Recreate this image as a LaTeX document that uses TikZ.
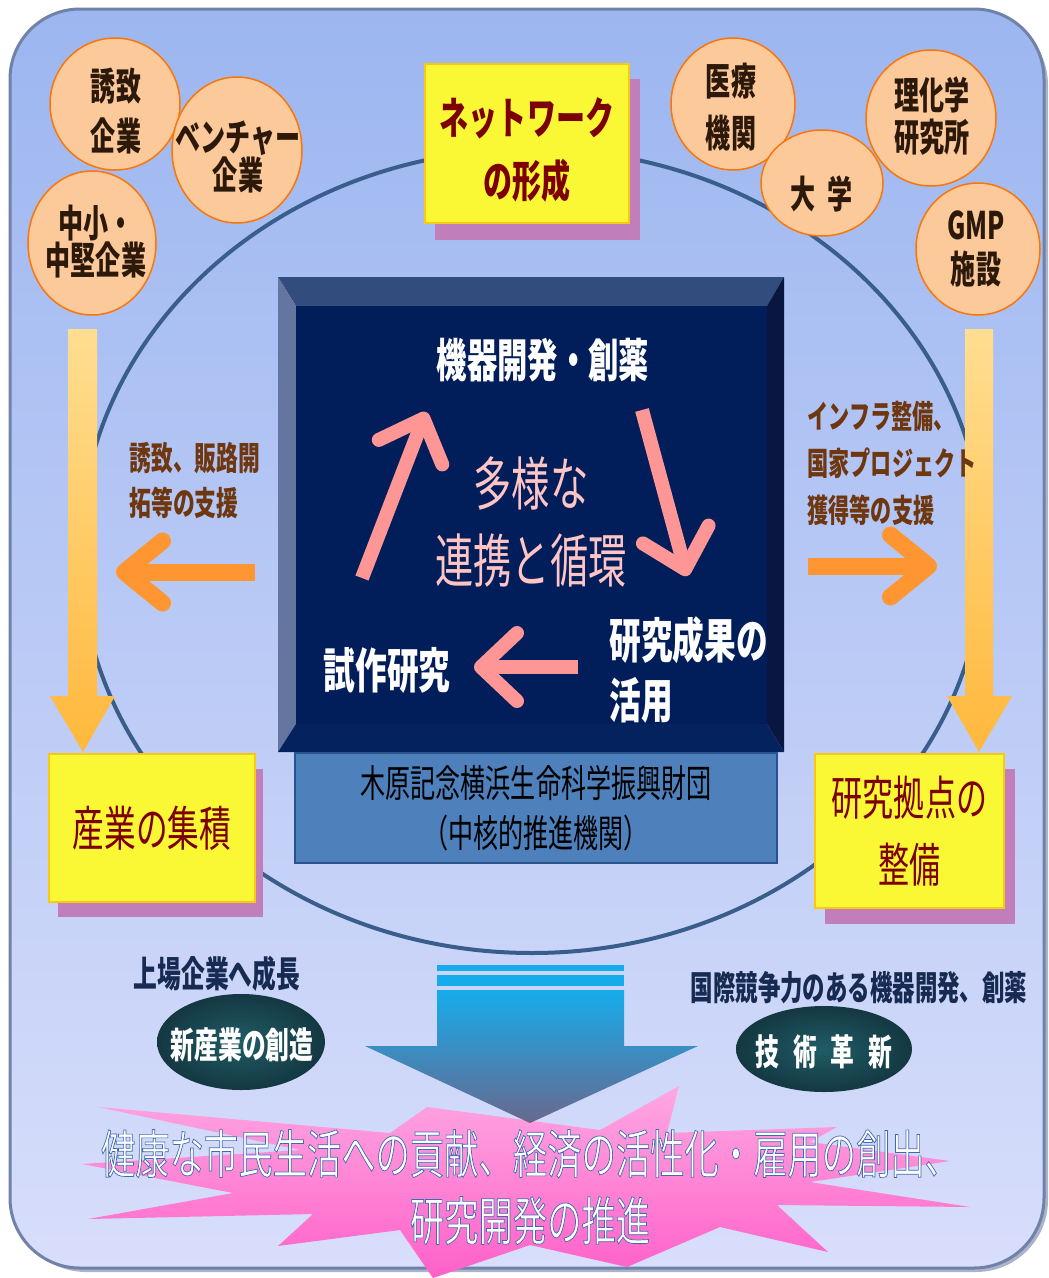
\documentclass[tikz,border=0pt]{standalone}
\usepackage{fontspec}
\usepackage{tikz}
\usetikzlibrary{shapes.geometric,arrows.meta}
\newfontfamily\jp[FakeStretch=0.66]{Noto Sans CJK JP}
\newcommand\fs[2]{\fontsize{#1}{#2}\selectfont}
\newcommand\outlineon{\special{pdf:literal direct 2 Tr 0.7 w 0.25 0.41 0.69 RG}}
\newcommand\outlineoff{\special{pdf:literal direct 0 Tr}}
\definecolor{panel top}{RGB}{156,182,240}
\definecolor{panel bottom}{RGB}{216,222,251}
\definecolor{panel edge}{RGB}{112,130,168}
\definecolor{ring line}{RGB}{58,94,140}
\definecolor{bubble fill}{RGB}{252,201,155}
\definecolor{bubble edge}{RGB}{250,118,10}
\definecolor{bubble text}{RGB}{45,25,10}
\definecolor{note fill}{RGB}{250,247,52}
\definecolor{note edge}{RGB}{250,200,20}
\definecolor{note shadow}{RGB}{192,126,186}
\definecolor{note text}{RGB}{125,0,0}
\definecolor{core fill}{RGB}{1,30,90}
\definecolor{bevel top}{RGB}{50,76,126}
\definecolor{bevel left}{RGB}{100,118,160}
\definecolor{bevel right}{RGB}{8,22,64}
\definecolor{bevel bottom}{RGB}{4,34,94}
\definecolor{cycle pink}{RGB}{255,150,150}
\definecolor{cycle text}{RGB}{255,196,196}
\definecolor{base fill}{RGB}{78,128,188}
\definecolor{base edge}{RGB}{42,82,140}
\definecolor{side orange}{RGB}{255,150,50}
\definecolor{side text}{RGB}{110,55,15}
\definecolor{flow top}{RGB}{255,222,145}
\definecolor{flow bottom}{RGB}{255,184,60}
\definecolor{label navy}{RGB}{22,42,82}
\definecolor{badge in}{RGB}{32,92,102}
\definecolor{badge out}{RGB}{20,56,66}
\definecolor{drop top}{RGB}{22,172,236}
\definecolor{drop mid}{RGB}{74,142,198}
\definecolor{drop bottom}{RGB}{104,104,142}
\definecolor{burst top}{RGB}{255,168,226}
\definecolor{burst bottom}{RGB}{255,96,200}
\tikzset{bubble/.style={ellipse, draw=bubble edge, fill=bubble fill, line width=1.5pt, inner sep=0pt},
    bubbletext/.style={align=center, text=bubble text, font=\jp\bfseries\fs{38}{50}},
    note/.style={rectangle, draw=note edge, fill=note fill, line width=1.2pt, inner sep=0pt, align=center, text=note text},
    cyclearrow/.style={draw=cycle pink, line width=14pt, -{Straight Barb[round, length=36pt, width=68pt]}},
    sidearrow/.style={draw=side orange, line width=17pt, -{Straight Barb[round, length=38pt, width=62pt]}},
    sidetext/.style={align=left, anchor=west, text=side text, font=\jp\bfseries\fs{33}{45}},
    whitetext/.style={text=white, font=\jp\bfseries\fs{46}{60}},
    badge/.style={ellipse, inner sep=0pt, inner color=badge in, outer color=badge out},
    flow/.style={top color=flow top, bottom color=flow bottom},
    slogan/.style={align=center, font=\jp\fs{52}{67}}}

\begin{document}
\begin{tikzpicture}[x=1pt, y=-1pt]
    \useasboundingbox (0,0) rectangle (1049,1278);
    % panel
    \fill[panel edge!60, rounded corners=72pt] (14,13) rectangle (1048,1272);
    \shadedraw[top color=panel top, bottom color=panel bottom, draw=panel edge, line width=3pt, rounded corners=70pt]
        (10,9) rectangle (1044,1268);
    \draw[ring line, line width=4pt] (532,551) ellipse [x radius=452, y radius=402];

    % flows down to the two notes
    \shade[flow] (68,329) -- (97,329) -- (97,696) -- (115,696) -- (83,752) -- (50,696) -- (68,696) -- cycle;
    \shade[flow] (965,329) -- (993,329) -- (993,696) -- (1012,696) -- (979,752) -- (947,696) -- (965,696) -- cycle;

    % partners
    \node[bubble, minimum width=130pt, minimum height=132pt] (yuchi) at (115,104) {};
    \node[bubbletext] (yuchi-t) at (116,111) {誘致\\企業};
    \node[bubble, minimum width=130pt, minimum height=146pt] (venture) at (237,150) {};
    \node[bubbletext, font=\jp\bfseries\fs{38}{38}] (venture-t) at (238,157) {ベンチャー\\企業};
    \node[bubble, minimum width=128pt, minimum height=144pt] (chusho) at (92,243) {};
    \node[bubbletext, font=\jp\bfseries\fs{38}{37}] (chusho-t) at (96,242) {中小・\\中堅企業};
    \node[bubble, minimum width=124pt, minimum height=132pt] (iryo) at (733,104) {};
    \node[bubbletext, font=\jp\bfseries\fs{38}{52}] (iryo-t) at (731,107) {医療\\機関};
    \node[bubble, minimum width=122pt, minimum height=106pt] (daigaku) at (822,183) {};
    \node[bubbletext] (daigaku-t) at (822,194) {大\hspace{12pt}学};
    \node[bubble, minimum width=130pt, minimum height=136pt] (riken) at (931,118) {};
    \node[bubbletext, font=\jp\bfseries\fs{38}{42}] (riken-t) at (932,116) {理化学\\研究所};
    \node[bubble, minimum width=124pt, minimum height=132pt] (gmp) at (978,249) {};
    \node[bubbletext, font=\jp\bfseries\fs{38}{44}] (gmp-t) at (976,249) {GMP\\施設};

    % network
    \fill[note shadow] (435,79) rectangle (640,240);
    \node[note, minimum width=204pt, minimum height=159pt] (net) at (527,143.5) {};
    \node[text=note text, align=center, font=\jp\bfseries\fs{44}{63}] (net-t) at (527,150) {ネットワーク\\の形成};

    % core with bevel
    \coordinate (co-a) at (278,277);
    \coordinate (co-b) at (784,277);
    \coordinate (co-c) at (784,752);
    \coordinate (co-d) at (278,752);
    \coordinate (ci-a) at (296,306);
    \coordinate (ci-b) at (767,306);
    \coordinate (ci-c) at (767,724);
    \coordinate (ci-d) at (296,724);
    \fill[bevel top] (co-a) -- (co-b) -- (ci-b) -- (ci-a) -- cycle;
    \fill[bevel left] (co-a) -- (ci-a) -- (ci-d) -- (co-d) -- cycle;
    \fill[bevel right] (co-b) -- (co-c) -- (ci-c) -- (ci-b) -- cycle;
    \fill[bevel bottom] (co-d) -- (ci-d) -- (ci-c) -- (co-c) -- cycle;
    \node[fill=core fill, minimum width=471pt, minimum height=418pt, inner sep=0pt] (core) at (531.5,515) {};

    \node[draw=base edge, fill=base fill, line width=2pt, minimum width=482pt, minimum height=110pt,
          align=center, font=\jp\fs{38}{50}] (zaidan) at (536,808) {木原記念横浜生命科学振興財団\\（中核的推進機関）};

    % cycle inside the core
    \node[whitetext] (kiki) at (543,360) {機器開発・創薬};
    \node[align=center, text=cycle text, font=\jp\fs{58}{77}] (tayo) at (531,522) {多様な\\連携と循環};
    \node[whitetext, font=\jp\bfseries\fs{48}{60}] (shisaku) at (387,670) {試作研究};
    \node[whitetext, align=left, anchor=west, font=\jp\bfseries\fs{48}{60}] (seika) at (606,670) {研究成果の\\活用};
    \coordinate (up-s) at (362,578);
    \coordinate (up-e) at (426,412);
    \coordinate (dn-s) at (642,410);
    \coordinate (dn-e) at (687,576);
    \coordinate (lf-s) at (578,667);
    \coordinate (lf-e) at (474,667);
    \draw[cyclearrow] (up-s) -- (up-e);
    \draw[cyclearrow] (dn-s) -- (dn-e);
    \draw[cyclearrow] (lf-s) -- (lf-e);

    % support
    \coordinate (sl-s) at (255,572);
    \coordinate (sl-e) at (116,572);
    \coordinate (sr-s) at (808,566);
    \coordinate (sr-e) at (937,566);
    \draw[sidearrow] (sl-s) -- (sl-e);
    \draw[sidearrow] (sr-s) -- (sr-e);
    \node[sidetext] (sien-l) at (126,480) {誘致、販路開\\拓等の支援};
    \node[sidetext, font=\jp\bfseries\fs{32}{47}] (sien-r) at (804,463) {インフラ整備、\\国家プロジェクト\\獲得等の支援};

    % notes
    \fill[note shadow] (58,769) rectangle (263,917);
    \node[note, minimum width=206pt, minimum height=148pt, font=\jp\fs{48}{60}] (sangyo) at (152,828) {産業の集積};
    \fill[note shadow] (825,769) rectangle (1015,924);
    \node[note, minimum width=189pt, minimum height=154pt, font=\jp\fs{47}{67}] (kyoten) at (909.5,831) {研究拠点の\\整備};

    % outcomes
    \node[text=label navy, font=\jp\bfseries\fs{36}{44}] (jojo) at (217,974) {上場企業へ成長};
    \node[badge, minimum width=168pt, minimum height=96pt] (shin) at (241,1042) {};
    \node[text=white, font=\jp\bfseries\fs{36}{44}] (shin-t) at (242,1045) {新産業の創造};
    \node[text=label navy, font=\jp\bfseries\fs{34}{44}] (kokusai) at (859,988) {国際競争力のある機器開発、創薬};
    \node[badge, minimum width=176pt, minimum height=86pt] (gijutsu) at (824,1049) {};
    \node[text=white, font=\jp\bfseries\fs{36}{44}] (gijutsu-t) at (824,1052) {技\hspace{14pt}術\hspace{14pt}革\hspace{14pt}新};

    % burst
    \shade[top color=burst top, bottom color=burst bottom]
        (98,1107) -- (300,1150) -- (82,1164) -- (233,1193) -- (88,1219) -- (313,1214) -- (278,1246)
        -- (400,1230) -- (433,1278) -- (530,1245) -- (627,1267) -- (720,1227) -- (828,1252) -- (777,1205)
        -- (970,1207) -- (810,1182) -- (950,1161) -- (810,1142) -- (837,1127) -- (667,1133) -- (679,1086)
        -- (600,1130) -- (427,1107) -- (390,1133) -- cycle;

    % drop arrow
    \fill[drop top] (437,965) rectangle (624,971);
    \fill[drop top] (437,975) rectangle (624,986);
    \shade[top color=drop top, middle color=drop mid, bottom color=drop bottom]
        (437,990) -- (624,990) -- (624,1046) -- (698,1046) -- (530,1123) -- (365,1046) -- (437,1046) -- cycle;

    % slogan
    \node[slogan, text=white] (goal) at (530,1187)
        {\outlineon 健康な市民生活への貢献、経済の活性化・雇用の創出、\\\outlineon 研究開発の推進\outlineoff};
\end{tikzpicture}
\end{document}
